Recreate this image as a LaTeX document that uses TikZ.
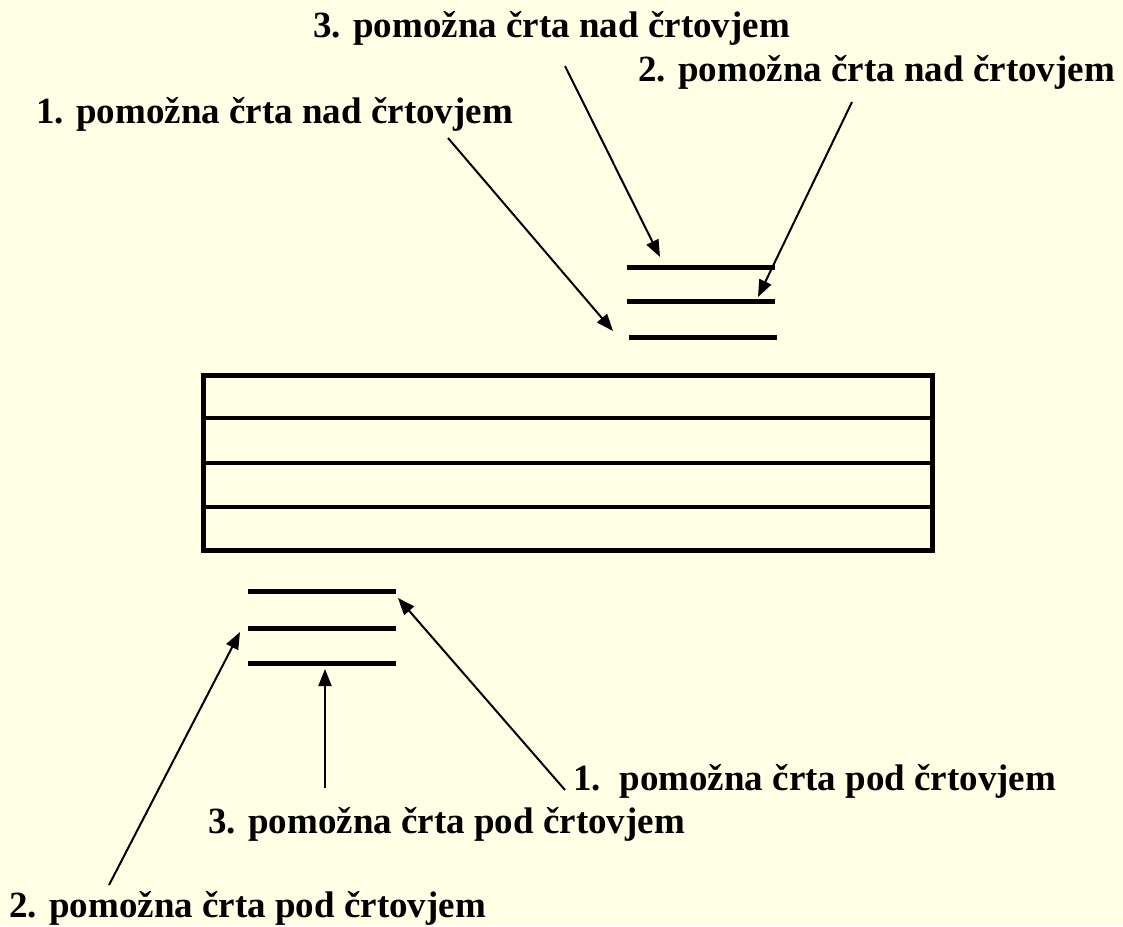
\documentclass[tikz,border=0pt]{standalone}
\usepackage{fontspec}
\setmainfont{Liberation Serif}
\usetikzlibrary{arrows.meta}
\definecolor{bgyellow}{RGB}{255,255,230}
\begin{document}
\begin{tikzpicture}[x=1pt,y=-1pt,
  lbl/.style={anchor=base west,inner sep=0pt,font=\fontsize{37}{40}\selectfont\bfseries},
  thick line/.style={line width=5pt},
  pointer/.style={line width=2pt,-{Triangle[length=17pt,width=13pt]}}]
\fill[bgyellow] (0,0) rectangle (1123,926);
\useasboundingbox (0,0) rectangle (1123,926);
% labels
\node[lbl] (n3) at (313,37) {3. pomožna črta nad črtovjem};
\node[lbl] (n2) at (638,81) {2. pomožna črta nad črtovjem};
\node[lbl] (n1) at (36,123) {1. pomožna črta nad črtovjem};
\node[lbl] (p1) at (573,790) {1.\ \ pomožna črta pod črtovjem};
\node[lbl] (p3) at (208,833) {3. pomožna črta pod črtovjem};
\node[lbl] (p2) at (9,917) {2. pomožna črta pod črtovjem};
% staff
\draw[thick line] (203,375) rectangle (932,550);
\draw[line width=4pt] (203,418) -- (932,418);
\draw[line width=4pt] (203,463) -- (932,463);
\draw[line width=4pt] (203,507) -- (932,507);
% ledger lines above
\draw[thick line] (627,267) -- (775,267);
\draw[thick line] (627,301) -- (775,301);
\draw[thick line] (629,337) -- (777,337);
% ledger lines below
\draw[thick line] (248,591) -- (396,591);
\draw[thick line] (248,628) -- (396,628);
\draw[thick line] (248,663) -- (396,663);
% connector ends
\coordinate (t3) at (565,66);   \coordinate (h3) at (660,257);
\coordinate (t2) at (852,102);  \coordinate (h2) at (758,297);
\coordinate (t1) at (448,138);  \coordinate (h1) at (613,331);
\coordinate (u1) at (565,790);  \coordinate (k1) at (398,598);
\coordinate (u3) at (325,788);  \coordinate (k3) at (325,669);
\coordinate (u2) at (109,885);  \coordinate (k2) at (240,632);
\draw[pointer] (t3) -- (h3);
\draw[pointer] (t2) -- (h2);
\draw[pointer] (t1) -- (h1);
\draw[pointer] (u1) -- (k1);
\draw[pointer] (u3) -- (k3);
\draw[pointer] (u2) -- (k2);
\end{tikzpicture}
\end{document}
